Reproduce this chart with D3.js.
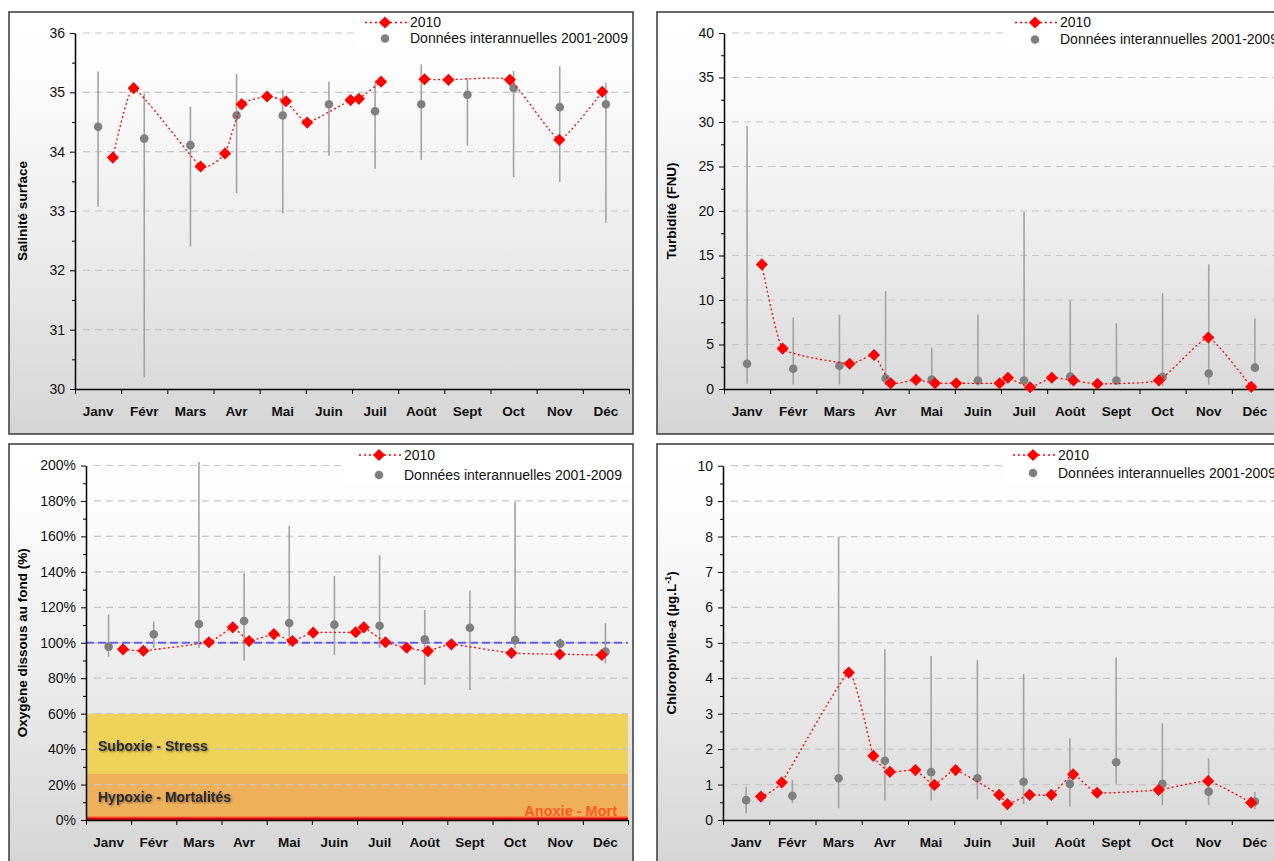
<!DOCTYPE html>
<html>
<head>
<meta charset="utf-8">
<script src="https://cdn.jsdelivr.net/npm/d3@7"></script>
<style>
body { margin: 0; background: #fff; }
svg { display: block; font-family: "Liberation Sans", Arial, sans-serif; }
</style>
</head>
<body>
<svg id="chart" width="1274" height="861"></svg>
<script>
// --- Data ---
const months = ["Janv", "Févr", "Mars", "Avr", "Mai", "Juin", "Juil", "Août", "Sept", "Oct", "Nov", "Déc"];
// sampling dates of 2010, as fractional month (0 = 1st January)
const sampleMonths = [0.82, 1.27, 2.72, 3.25, 3.61, 4.16, 4.57, 5.03, 5.97, 6.15, 6.63, 7.10, 7.57, 8.09, 9.42, 10.49, 11.42];

// Salinité surface
const salinity2010 = [33.90, 35.07, 33.75, 33.97, 34.80, 34.93, 34.85, 34.49, 34.87, 34.89, 35.18, null, 35.22, 35.21, 35.21, 34.20, 35.01];
const salinityMean = [34.42, 34.22, 34.11, 34.61, 34.61, 34.80, 34.68, 34.80, 34.96, 35.07, 34.75, 34.80];
const salinityMin  = [33.07, 30.20, 32.40, 33.30, 32.96, 33.93, 33.71, 33.86, 34.10, 33.57, 33.49, 32.80];
const salinityMax  = [35.35, 34.98, 34.76, 35.31, 35.04, 35.18, 35.20, 35.47, 35.25, 35.36, 35.44, 35.16];

// Turbidité (FNU)
const turbidity2010 = [14.0, 4.54, 2.84, 3.82, 0.65, 1.03, 0.65, 0.65, 0.65, 1.26, 0.20, 1.26, 0.96, 0.58, 0.96, 5.79, 0.24];
const turbidityMean = [2.84, 2.28, 2.62, 1.18, 1.07, 0.96, 0.96, 1.41, 0.96, 1.33, 1.75, 2.40];
const turbidityMin  = [0.58, 0.50, 0.50, 0.40, 0.35, 0.40, 0.35, 0.40, 0.50, 0.35, 0.50, 1.90];
const turbidityMax  = [29.55, 8.01, 8.35, 10.99, 4.65, 8.35, 19.92, 9.93, 7.37, 10.76, 14.0, 7.93];

// Oxygène dissous au fond (%)
const oxygen2010 = [96.3, 95.5, 100.3, 108.7, 101.0, 104.9, 101.0, 105.7, 105.9, 108.7, 100.3, 97.2, 95.3, 99.1, 94.2, 93.5, 93.1];
const oxygenMean = [97.8, 104.8, 110.6, 112.3, 111.1, 110.2, 109.6, 101.9, 108.5, 101.5, 99.5, 95.0];
const oxygenMin  = [92.1, 97.0, 97.0, 90.0, 98.0, 93.1, 97.0, 76.2, 73.3, 97.0, 97.0, 88.4];
const oxygenMax  = [116.0, 111.9, 202.0, 139.2, 165.9, 137.7, 149.5, 118.5, 129.4, 179.6, 102.5, 111.0];
const oxygenRef = 100;
const oxyZoneNames  = ["Suboxie - Stress", "Hypoxie - Mortalités", "Anoxie - Mort"];
const oxyZoneTop    = [60, 26, 2];
const oxyZoneBottom = [26, 2, 0];

// Chlorophylle-a (µg/L)
const chloro2010 = [0.66, 1.06, 4.16, 1.81, 1.36, 1.41, 0.99, 1.41, 0.71, 0.45, 0.71, 0.71, 1.29, 0.77, 0.85, 1.10, 0.49];
const chloroMean = [0.56, 0.68, 1.18, 1.67, 1.35, 1.18, 1.08, 1.02, 1.63, 1.02, 0.80, 0.52];
const chloroMin  = [0.19, 0.47, 0.33, 0.55, 0.55, 0.58, 0.45, 0.38, 1.02, 0.42, 0.42, 0.30];
const chloroMax  = [0.94, 1.13, 7.99, 4.82, 4.63, 4.52, 4.12, 2.31, 4.59, 2.73, 1.74, 0.80];

const legendLabels = ["2010", "Données interannuelles 2001-2009"];

// --- Global config ---
const colors = { red: "#ff0000", gray: "#808080", range: "#a3a3a3", grid: "#c6c6c6", axis: "#000" };
const svg = d3.select("#chart");

const defs = svg.append("defs");
const grad = defs.append("linearGradient").attr("id", "bg").attr("x1", 0).attr("y1", 0).attr("x2", 0).attr("y2", 1);
grad.append("stop").attr("offset", "0").attr("stop-color", "#ffffff");
grad.append("stop").attr("offset", "0.12").attr("stop-color", "#fdfdfd");
grad.append("stop").attr("offset", "0.55").attr("stop-color", "#ececec");
grad.append("stop").attr("offset", "1").attr("stop-color", "#d5d5d5");
const shadow = defs.append("filter").attr("id", "shadow").attr("x", "-10%").attr("y", "-30%").attr("width", "120%").attr("height", "160%");
shadow.append("feGaussianBlur").attr("in", "SourceAlpha").attr("stdDeviation", 1.2).attr("result", "blur");
shadow.append("feOffset").attr("dx", 0.5).attr("dy", 0.5).attr("result", "off");
shadow.append("feComponentTransfer").append("feFuncA").attr("type", "linear").attr("slope", 0.45);
const merge = shadow.append("feMerge");
merge.append("feMergeNode");
merge.append("feMergeNode").attr("in", "SourceGraphic");

const diamond = d3.symbol().type(d3.symbolSquare).size(74);

function drawPanel(p) {
    const g = svg.append("g");

    // panel frame with grey gradient
    g.append("rect")
        .attr("x", p.box.x).attr("y", p.box.y)
        .attr("width", p.box.w).attr("height", p.box.h)
        .attr("fill", "url(#bg)")
        .attr("stroke", "#3a3a3a").attr("stroke-width", 1.5);

    const x = d3.scaleLinear().domain([0, 12]).range([p.plot.left, p.plot.right]);
    const y = d3.scaleLinear().domain(p.yDomain).range([p.plot.bottom, p.plot.top]);

    // Threshold zones (oxygen only)
    if (p.zones) {
        g.selectAll(".zone")
            .data(p.zones.names)
            .enter().append("rect")
            .attr("x", x(0) + 1)
            .attr("width", x(12) - x(0) - 1)
            .attr("y", (d, i) => y(p.zones.top[i]))
            .attr("height", (d, i) => y(p.zones.bottom[i]) - y(p.zones.top[i]))
            .attr("fill", (d, i) => p.zones.fills[i]);
        // dark red line at the bottom
        g.append("rect")
            .attr("x", x(0) + 1).attr("width", x(12) - x(0) - 1)
            .attr("y", y(0) - 2).attr("height", 2).attr("fill", "#d40000");
    }

    // Gridlines
    const majors = d3.range(p.yDomain[0], p.yDomain[1] + 1e-9, p.step);
    g.selectAll(".grid")
        .data(majors.slice(1))
        .enter().append("line")
        .attr("x1", x(0) + 8).attr("x2", x(12))
        .attr("y1", d => y(d)).attr("y2", d => y(d))
        .attr("stroke", colors.grid).attr("stroke-width", 1.2)
        .attr("stroke-dasharray", "7,5");

    if (p.zones) {
        g.selectAll(".zlabel")
            .data(p.zones.names)
            .enter().append("text")
            .attr("x", (d, i) => i === 2 ? x(12) - 11 : x(0) + 12)
            .attr("y", (d, i) => y(p.zones.labelAt[i]))
            .attr("dy", "0.35em")
            .attr("text-anchor", (d, i) => i === 2 ? "end" : "start")
            .attr("font-size", (d, i) => i === 2 ? "14.5px" : "14px")
            .attr("font-weight", "bold")
            .attr("fill", (d, i) => i === 2 ? "#ff5a1f" : "#2a2a2a")
            .attr("filter", (d, i) => i === 2 ? null : "url(#shadow)")
            .text(d => d);
    }

    // Reference line
    if (p.refLine != null) {
        g.append("line")
            .attr("x1", x(0)).attr("x2", x(12))
            .attr("y1", y(p.refLine)).attr("y2", y(p.refLine))
            .attr("stroke", "#5f5ff5").attr("stroke-width", 2)
            .attr("stroke-dasharray", "8,4");
    }

    // Legend box (hides top gridline)
    g.append("rect")
        .attr("x", p.legend.boxX).attr("y", p.box.y + 1)
        .attr("width", p.box.x + p.box.w - p.legend.boxX - 1)
        .attr("height", p.legend.boxH)
        .attr("fill", "#fff");

    // Axes
    const yAxis = g.append("g")
        .attr("transform", `translate(${x(0)},0)`)
        .call(d3.axisLeft(y).tickValues(majors).tickSize(5).tickSizeOuter(0).tickPadding(5).tickFormat(p.fmt));
    yAxis.attr("font-family", null).attr("font-size", "14px");
    yAxis.selectAll("text").attr("fill", "#111");

    const minors = d3.range(p.yDomain[0], p.yDomain[1] + 1e-9, p.step / 2).filter(v => !majors.includes(v));
    const yMinor = g.append("g")
        .attr("transform", `translate(${x(0)},0)`)
        .call(d3.axisLeft(y).tickValues(minors).tickSize(3).tickFormat(""));
    yMinor.select(".domain").remove();

    g.append("g")
        .attr("transform", `translate(0,${y(p.yDomain[0])})`)
        .call(d3.axisBottom(x).tickValues(d3.range(0, 13)).tickSize(5).tickSizeOuter(0).tickFormat(""));
    g.selectAll(".domain").attr("stroke-width", 1.5);

    g.selectAll(".month")
        .data(months)
        .enter().append("text")
        .attr("x", (d, i) => x(i + 0.5))
        .attr("y", y(p.yDomain[0]) + 22)
        .attr("dy", "0.35em")
        .attr("text-anchor", "middle")
        .attr("font-size", "13.5px")
        .attr("font-weight", "bold")
        .attr("fill", "#111")
        .text(d => d);

    // Y axis title
    const title = g.append("text")
        .attr("transform", `translate(${p.titleX},${(p.plot.top + p.plot.bottom) / 2}) rotate(-90)`)
        .attr("text-anchor", "middle")
        .attr("font-size", "13.5px")
        .attr("font-weight", "bold")
        .attr("fill", "#000");
    p.title.forEach(part => {
        const t = title.append("tspan").text(part.t);
        if (part.italic) t.attr("font-style", "italic");
        if (part.sup) t.attr("baseline-shift", "super").attr("font-size", "9px");
    });

    // Interannual ranges and means
    g.selectAll(".range")
        .data(months)
        .enter().append("line")
        .attr("x1", (d, i) => x(i + 0.5)).attr("x2", (d, i) => x(i + 0.5))
        .attr("y1", (d, i) => y(p.min[i])).attr("y2", (d, i) => y(p.max[i]))
        .attr("stroke", colors.range).attr("stroke-width", 1.6);

    g.selectAll(".mean")
        .data(p.mean)
        .enter().append("circle")
        .attr("cx", (d, i) => x(i + 0.5))
        .attr("cy", d => y(d))
        .attr("r", 4.3)
        .attr("fill", colors.gray);

    // 2010 series (lightly smoothed, like the spreadsheet's lines)
    const pts = sampleMonths.map((m, i) => ({ m: m, v: p.values[i] }));
    const line = d3.line()
        .defined(d => d.v != null)
        .x(d => x(d.m))
        .y(d => y(d.v))
        .curve(d3.curveCardinal.tension(0.6));

    g.append("path")
        .attr("d", line(pts))
        .attr("fill", "none")
        .attr("stroke", colors.red).attr("stroke-width", 1.3)
        .attr("stroke-dasharray", "2,2.5");

    g.selectAll(".pt")
        .data(pts.filter(d => d.v != null))
        .enter().append("path")
        .attr("d", diamond)
        .attr("transform", d => `translate(${x(d.m)},${y(d.v)}) rotate(45)`)
        .attr("fill", colors.red);

    // Legend
    const lg = g.append("g").attr("transform", `translate(${p.legend.x},${p.legend.y})`);
    lg.append("line").attr("x1", -20).attr("x2", 22).attr("y1", 0).attr("y2", 0)
        .attr("stroke", colors.red).attr("stroke-width", 1.3).attr("stroke-dasharray", "2,3");
    lg.append("path").attr("d", diamond).attr("transform", "rotate(45)").attr("fill", colors.red);
    lg.append("circle").attr("cx", 0).attr("cy", p.legend.gap).attr("r", 4.3).attr("fill", colors.gray);
    lg.selectAll("text")
        .data(legendLabels)
        .enter().append("text")
        .attr("x", 25)
        .attr("y", (d, i) => i * p.legend.gap)
        .attr("dy", "0.35em")
        .attr("font-size", "14px")
        .attr("fill", "#111")
        .text(d => d);
}

// --- Panels ---
drawPanel({
    box: { x: 9, y: 12, w: 624, h: 422 },
    plot: { left: 75, right: 629, top: 33, bottom: 389 },
    yDomain: [30, 36], step: 1, fmt: d3.format("d"),
    titleX: 27, title: [{ t: "Salinité surface" }],
    values: salinity2010, mean: salinityMean, min: salinityMin, max: salinityMax,
    legend: { x: 385, y: 22.5, gap: 16, boxX: 357, boxH: 34 }
});

drawPanel({
    box: { x: 657, y: 12, w: 640, h: 422 },
    plot: { left: 724, right: 1278, top: 33, bottom: 389 },
    yDomain: [0, 40], step: 5, fmt: d3.format("d"),
    titleX: 676, title: [{ t: "Turbidité (FNU)" }],
    values: turbidity2010, mean: turbidityMean, min: turbidityMin, max: turbidityMax,
    legend: { x: 1035, y: 22.5, gap: 17, boxX: 1008, boxH: 34 }
});

drawPanel({
    box: { x: 9, y: 444, w: 624, h: 422 },
    plot: { left: 86, right: 628, top: 465.5, bottom: 820 },
    yDomain: [0, 200], step: 20, fmt: d => d + "%",
    titleX: 27, title: [{ t: "Oxygène dissous au fond (%)" }],
    values: oxygen2010, mean: oxygenMean, min: oxygenMin, max: oxygenMax,
    refLine: oxygenRef,
    zones: {
        names: oxyZoneNames, top: oxyZoneTop, bottom: oxyZoneBottom,
        fills: ["#efd25a", "#eeb05a", "#ff4a14"],
        labelAt: [41.5, 13, 5.2]
    },
    legend: { x: 379, y: 455, gap: 20, boxX: 343, boxH: 36 }
});

drawPanel({
    box: { x: 657, y: 444, w: 640, h: 422 },
    plot: { left: 723, right: 1278, top: 465.7, bottom: 820 },
    yDomain: [0, 10], step: 1, fmt: d3.format("d"),
    titleX: 676,
    title: [{ t: "Chlorophylle-" }, { t: "a", italic: true }, { t: " (µg.L" }, { t: "-1", sup: true }, { t: ")" }],
    values: chloro2010, mean: chloroMean, min: chloroMin, max: chloroMax,
    legend: { x: 1033, y: 455, gap: 18, boxX: 1005, boxH: 36 }
});
</script>
</body>
</html>
